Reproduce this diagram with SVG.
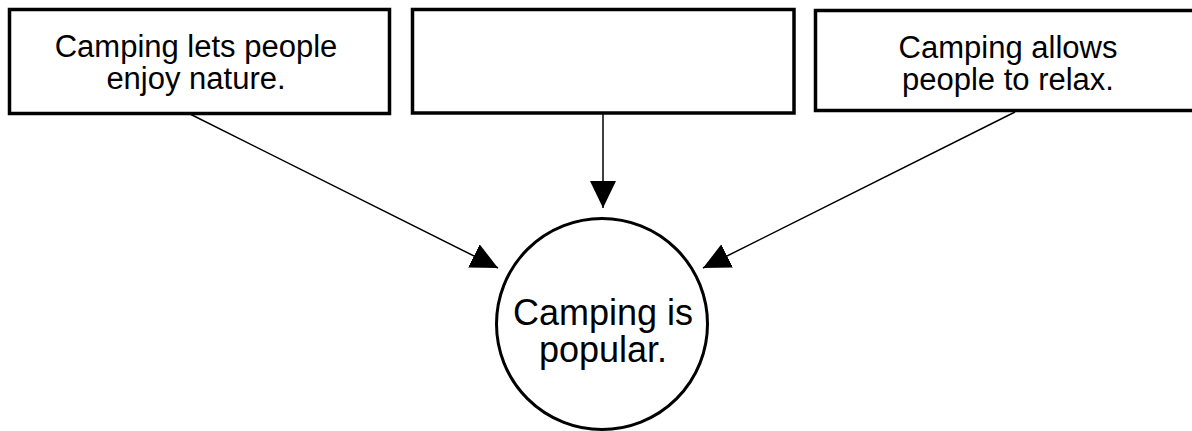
<svg xmlns="http://www.w3.org/2000/svg" width="1192" height="431" viewBox="0 0 1192 431">
<style>
.box{fill:#fff;stroke:#000;stroke-width:3.5}
.t{font-family:"Liberation Sans",Arial,sans-serif;font-size:31px;fill:#000;text-anchor:middle}
.tc{font-family:"Liberation Sans",Arial,sans-serif;font-size:36px;fill:#000;text-anchor:middle}
.conn{stroke:#000;stroke-width:1.5;fill:none;marker-end:url(#ah)}
</style>
<defs>
<marker id="ah" markerUnits="userSpaceOnUse" markerWidth="28" markerHeight="26" refX="27" refY="13" orient="auto">
<path d="M0,0 L27,13 L0,26 z" fill="#000"/>
</marker>
</defs>
<rect width="1192" height="431" fill="#fff"/>
<g id="connectors">
<line class="conn" x1="190" y1="114" x2="498" y2="268"/>
<line class="conn" x1="603" y1="114" x2="603" y2="208"/>
<line class="conn" x1="1015" y1="112" x2="703" y2="268"/>
</g>
<g id="box1">
<rect class="box" x="9.5" y="9.5" width="380" height="104"/>
<text class="t" x="196" y="57">Camping lets people</text>
<text class="t" x="196" y="89">enjoy nature.</text>
</g>
<g id="box2">
<rect class="box" x="412.5" y="9.5" width="381.5" height="103.5"/>
</g>
<g id="box3">
<rect class="box" x="815.5" y="10.5" width="390" height="100"/>
<text class="t" x="1008" y="58">Camping allows</text>
<text class="t" x="1008" y="90">people to relax.</text>
</g>
<g id="center">
<circle cx="602" cy="324" r="105.5" fill="#fff" stroke="#000" stroke-width="3"/>
<text class="tc" x="603" y="325">Camping is</text>
<text class="tc" x="603" y="362">popular.</text>
</g>
</svg>
